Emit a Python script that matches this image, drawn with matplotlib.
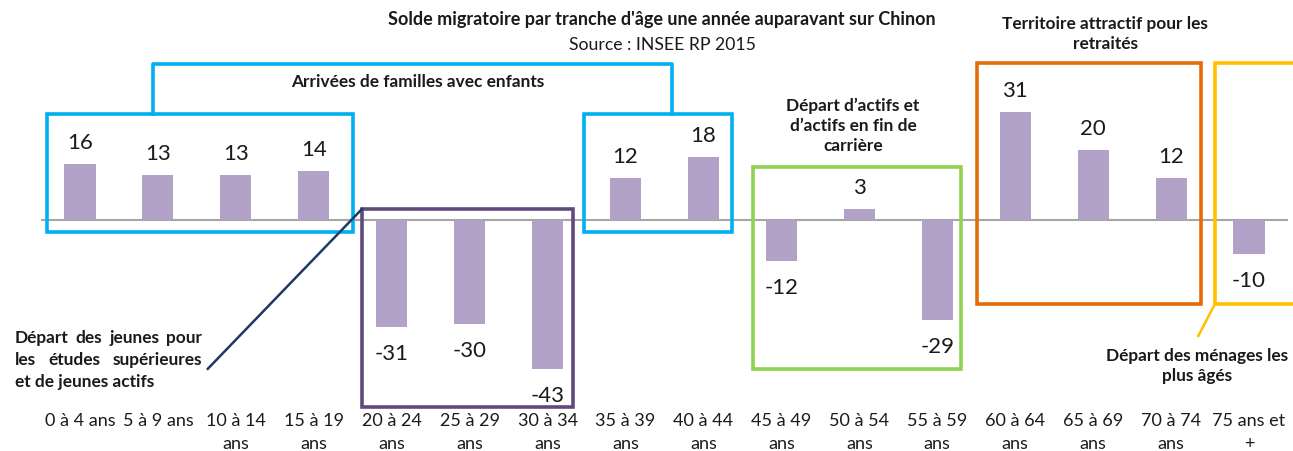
import matplotlib.pyplot as plt
from matplotlib.patches import Rectangle

plt.rcParams['font.family'] = ['Lato', 'DejaVu Sans']

categories = ["0 à 4 ans", "5 à 9 ans", "10 à 14\nans", "15 à 19\nans", "20 à 24\nans",
              "25 à 29\nans", "30 à 34\nans", "35 à 39\nans", "40 à 44\nans", "45 à 49\nans",
              "50 à 54\nans", "55 à 59\nans", "60 à 64\nans", "65 à 69\nans", "70 à 74\nans",
              "75 ans et\n+"]
values = [16, 13, 13, 14, -31, -30, -43, 12, 18, -12, 3, -29, 31, 20, 12, -10]

bar_color = '#B3A2C7'
W, H = 1293, 452

fig = plt.figure(figsize=(12.93, 4.52), dpi=100)
ax = fig.add_axes([41 / W, 1 - 391.7 / H, 1247 / W, 330 / H])

x = list(range(len(values)))
ax.bar(x, values, width=0.4, color=bar_color, zorder=2)
ax.axhline(0, color='#a6a6a6', lw=1.5, zorder=1)

for xi, v in zip(x, values):
    off = 22 if v >= 0 else -26
    ax.annotate(str(v), (xi, v), xytext=(0, off), textcoords='offset pixels',
                ha='center', va='center', fontsize=16, color='#1a1a1a')

ax.set_xlim(-0.5, 15.5)
ax.set_ylim(-49.3, 45.8)
ax.set_xticks(x)
ax.set_xticklabels(categories, fontsize=13, linespacing=1.6, color='#1a1a1a')
ax.tick_params(axis='x', length=0, pad=15)
ax.set_yticks([])
for s in ax.spines.values():
    s.set_visible(False)


def box(x0, x1, y0, y1, color):
    ax.add_patch(Rectangle((x0, y0), x1 - x0, y1 - y0, fill=False, edgecolor=color,
                           lw=2.6, clip_on=False, zorder=3))


# groupes
box(-0.42, 3.50, -3.6, 30.5, '#00B0F0')
box(6.47, 8.36, -3.6, 30.5, '#00B0F0')
ax.plot([0.94, 0.94, 7.60, 7.60], [30.5, 44.9, 44.9, 30.5], color='#00B0F0', lw=2.6,
        clip_on=False, zorder=3)
box(3.62, 6.32, -54.0, 3.1, '#604A7B')
box(8.63, 11.30, -43.0, 15.2, '#92D050')
box(11.51, 14.39, -24.4, 45.2, '#E36C09')
box(14.56, 16.5, -24.4, 45.2, '#FFC000')

ax.plot([3.62, 1.64], [3.1, -43.0], color='#1F3864', lw=1.8, clip_on=False, zorder=3)
ax.plot([14.56, 14.35], [-24.4, -33.5], color='#FFC000', lw=1.8, clip_on=False, zorder=3)

bold = dict(fontsize=12.4, fontweight='bold', color='#1a1a1a')
fig.text(418 / W, 1 - 82 / H, "Arrivées de familles avec enfants", ha='center', va='center', **bold)
fig.text(853 / W, 1 - 126 / H, "Départ d’actifs et\nd’actifs en fin de\ncarrière",
         ha='center', va='center', linespacing=1.33, **bold)
fig.text(1105 / W, 1 - 34 / H, "Territoire attractif pour les\nretraités",
         ha='center', va='center', linespacing=1.33, **bold)
fig.text(1197 / W, 1 - 366 / H, "Départ des ménages les\nplus âgés",
         ha='center', va='center', linespacing=1.33, **bold)

# texte justifié à gauche
left_lines = ["Départ des jeunes pour", "les études supérieures", "et de jeunes actifs"]
x_left, x_right = 15, 202
renderer = fig.canvas.get_renderer()
for i, line in enumerate(left_lines):
    y = 1 - (338 + 22 * i) / H
    words = line.split()
    if i == len(left_lines) - 1:
        fig.text(x_left / W, y, line, ha='left', va='center', **bold)
        continue
    items = [fig.text(0, y, w_, ha='left', va='center', **bold) for w_ in words]
    widths = [t.get_window_extent(renderer).width for t in items]
    gap = (x_right - x_left - sum(widths)) / (len(words) - 1)
    pos = x_left
    for t, wd in zip(items, widths):
        t.set_x(pos / W)
        pos += wd + gap

fig.text(662 / W, 1 - 20 / H, "Solde migratoire par tranche d'âge une année auparavant sur Chinon",
         ha='center', va='center', fontsize=13, fontweight='bold', color='#1a1a1a')
fig.text(662 / W, 1 - 45 / H, "Source : INSEE RP 2015", ha='center', va='center',
         fontsize=12.7, color='#1a1a1a')

fig.savefig('out.png', dpi=100)
